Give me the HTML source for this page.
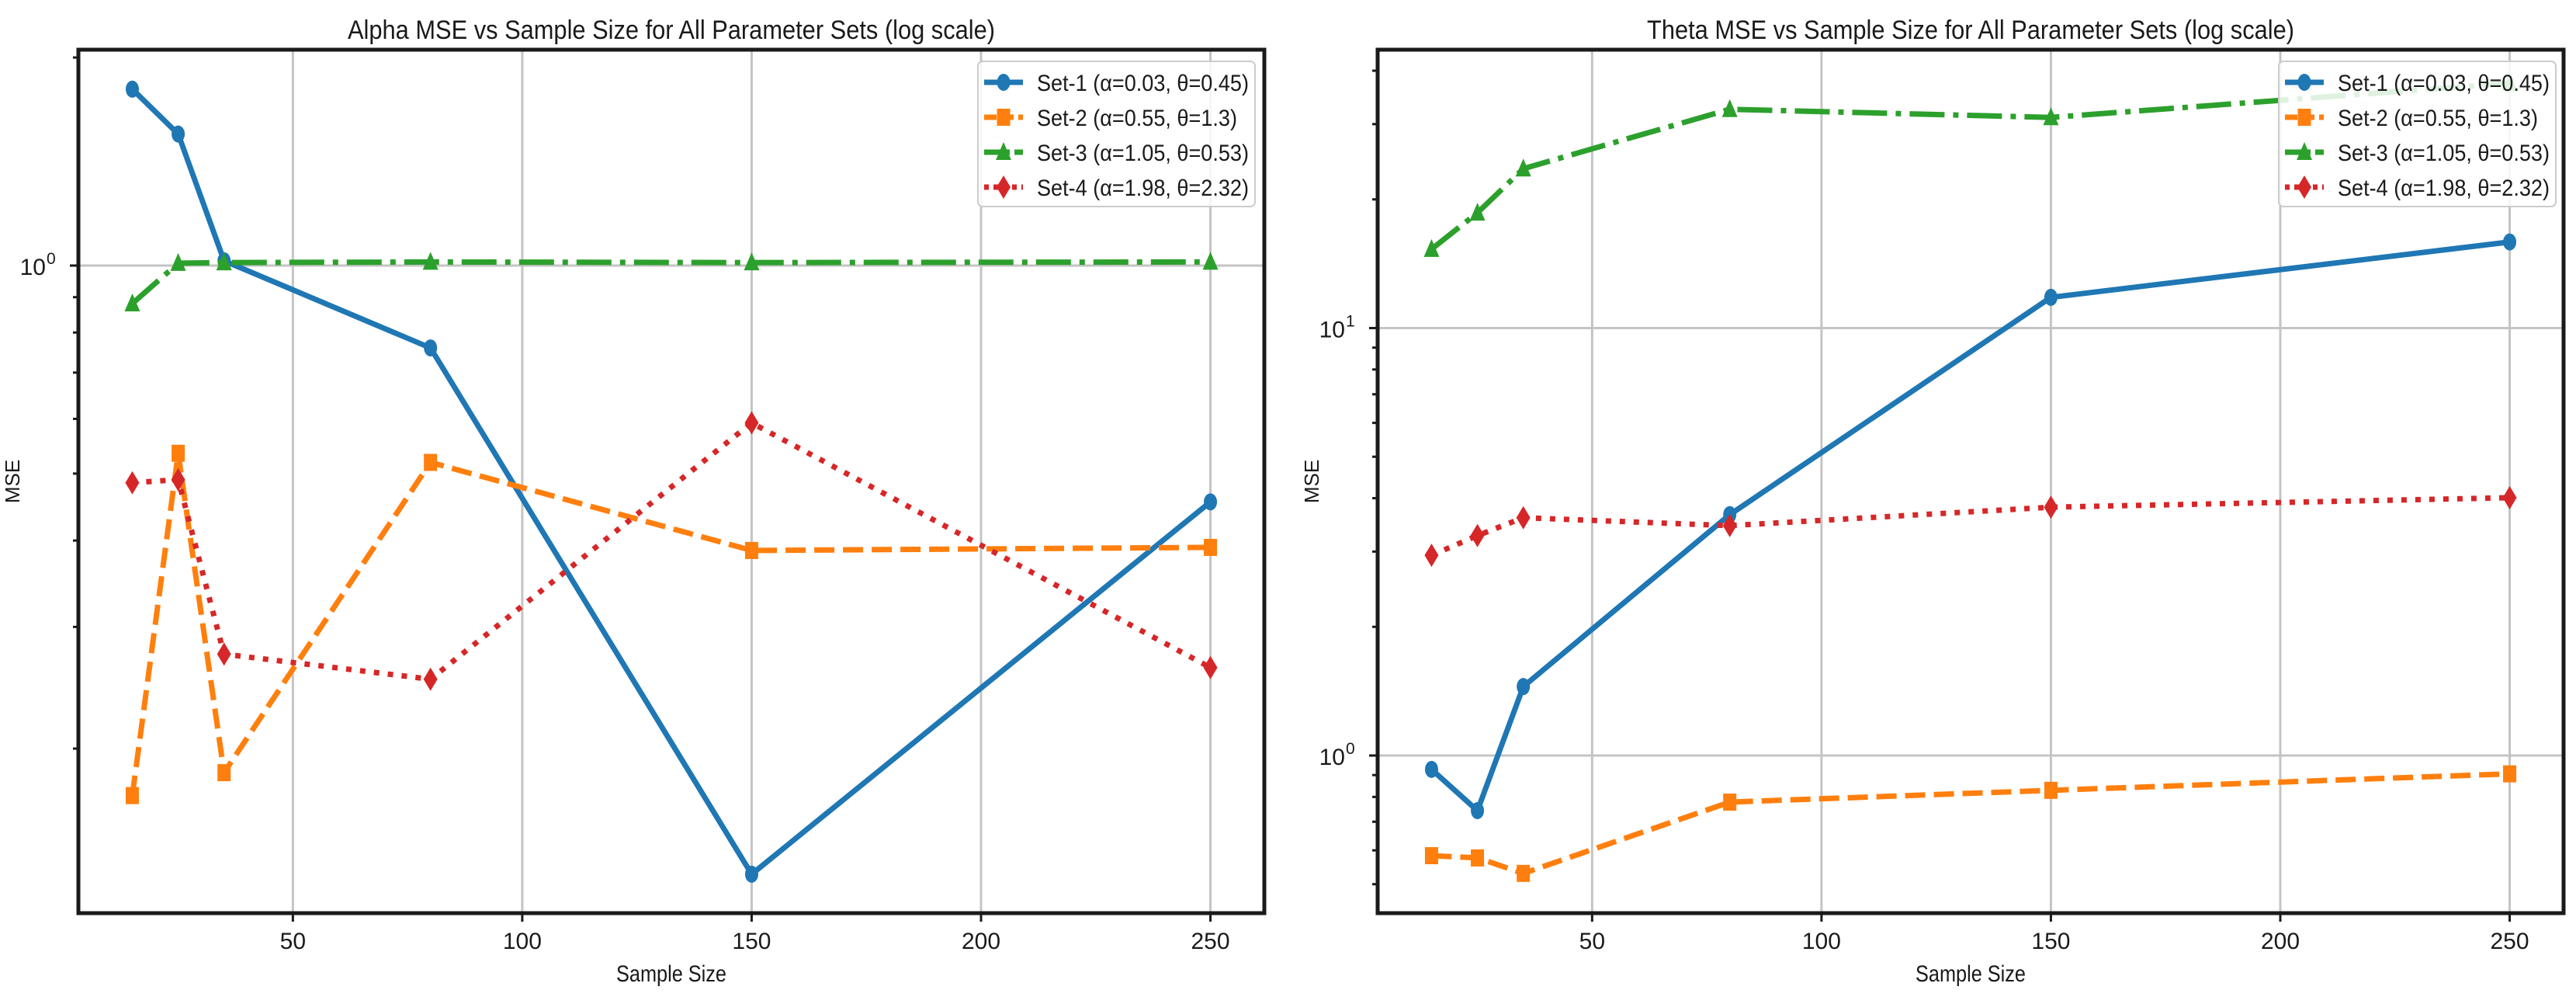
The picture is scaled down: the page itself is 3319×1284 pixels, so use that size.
<!DOCTYPE html>
<html><head><meta charset="utf-8"><style>
html,body{margin:0;padding:0;background:#fff}
svg{display:block}
text{font-family:"Liberation Sans",sans-serif;fill:#1a1a1a}
</style></head><body>
<svg id="fig" width="3319" height="1284" viewBox="0 0 3319 1284" xmlns="http://www.w3.org/2000/svg"></svg>
<script>
const sampleSizes = [15, 25, 35, 80, 150, 250];
const seriesNames = ["Set-1 (\u03b1=0.03, \u03b8=0.45)", "Set-2 (\u03b1=0.55, \u03b8=1.3)", "Set-3 (\u03b1=1.05, \u03b8=0.53)", "Set-4 (\u03b1=1.98, \u03b8=2.32)"];
const alphaSet1 = [1.80, 1.55, 1.016, 0.76, 0.1316, 0.455];
const alphaSet2 = [0.171, 0.535, 0.1846, 0.519, 0.387, 0.391];
const alphaSet3 = [0.881, 1.008, 1.010, 1.012, 1.010, 1.012];
const alphaSet4 = [0.485, 0.49, 0.274, 0.252, 0.592, 0.262];
const thetaSet1 = [0.928, 0.743, 1.45, 3.66, 11.8, 15.9];
const thetaSet2 = [0.583, 0.576, 0.53, 0.778, 0.829, 0.906];
const thetaSet3 = [15.3, 18.6, 23.6, 32.5, 31.1, 37.4];
const thetaSet4 = [2.94, 3.27, 3.6, 3.45, 3.81, 4.01];
const xTicks = [50, 100, 150, 200, 250];

const NS = "http://www.w3.org/2000/svg";
const svg = document.getElementById("fig");
function mk(tag, attrs, parent) {
  const e = document.createElementNS(NS, tag);
  for (const k in attrs) e.setAttribute(k, attrs[k]);
  (parent || svg).appendChild(e);
  return e;
}
const colors = ["#1f77b4", "#ff7f0e", "#2ca02c", "#d62728"];
const dashes = ["none", "26 11", "45 11 7 11", "7 11"];
const markers = ["circle", "square", "triangle", "diamond"];

function drawMarker(g, type, cx, cy, color) {
  let m;
  if (type === "circle") m = mk("ellipse", {cx: cx, cy: cy, rx: 8.5, ry: 11, fill: color}, g);
  else if (type === "square") m = mk("rect", {x: cx - 8.5, y: cy - 11, width: 17, height: 22, fill: color}, g);
  else if (type === "triangle") m = mk("polygon", {points: `${cx},${cy-13} ${cx+10},${cy+10} ${cx-10},${cy+10}`, fill: color}, g);
  else m = mk("polygon", {points: `${cx},${cy-15} ${cx+9},${cy} ${cx},${cy+15} ${cx-9},${cy}`, fill: color}, g);
  return m;
}

function panel(opt) {
  const g = mk("g", {});
  
  
  const L = opt.left, R = opt.left + 1528, T = 64, B = 1176;
  const x0 = 3.25, x1 = 261.75;
  const xs = v => L + (v - x0) / (x1 - x0) * (R - L);
  const ys = v => opt.y0 - opt.dec * Math.log10(v);
  xTicks.forEach(t => {
    const gl = mk("line", {x1: xs(t), x2: xs(t), y1: T, y2: B, stroke: "#c4c4c4", "stroke-width": 3}, g);
    
    
  });
  opt.majors.forEach(t => {
    const gl = mk("line", {x1: L, x2: R, y1: ys(t), y2: ys(t), stroke: "#c4c4c4", "stroke-width": 3}, g);
    
    
  });
  opt.series.forEach((vals, i) => {
    const sg = mk("g", {}, g);
    
    
    const pts = sampleSizes.map((s, j) => xs(s) + "," + ys(vals[j])).join(" ");
    const pl = mk("polyline", {points: pts, fill: "none", stroke: colors[i], "stroke-width": 7, "stroke-dasharray": dashes[i], "stroke-linejoin": "round"}, sg);
    
    
    sampleSizes.forEach((s, j) => {
      const m = drawMarker(sg, markers[i], xs(s), ys(vals[j]), colors[i]);
      
      
    });
  });
  const fr = mk("rect", {x: L, y: T, width: R - L, height: B - T, fill: "none", stroke: "#1a1a1a", "stroke-width": 5}, g);
  
  
  xTicks.forEach(t => {
    mk("line", {x1: xs(t), x2: xs(t), y1: B, y2: B + 11, stroke: "#1a1a1a", "stroke-width": 3}, g);
    const tl = mk("text", {x: xs(t), y: 1222, "font-size": 30, "text-anchor": "middle"}, g);
    tl.textContent = t;
    
    
  });
  opt.minors.forEach(t => {
    mk("line", {x1: L - 7, x2: L, y1: ys(t), y2: ys(t), stroke: "#1a1a1a", "stroke-width": 3}, g);
  });
  opt.majors.forEach((t, k) => {
    mk("line", {x1: L - 11, x2: L, y1: ys(t), y2: ys(t), stroke: "#1a1a1a", "stroke-width": 3}, g);
    const tl = mk("text", {x: L - 42, y: ys(t) + 12, "font-size": 30, "text-anchor": "end"}, g);
    tl.textContent = "10";
    
    
    const sp = mk("text", {x: L - 41, y: ys(t) - 2, "font-size": 21}, g);
    sp.textContent = opt.exps[k];
  });
  const ti = mk("text", {x: (L + R) / 2, y: 50, "font-size": 34, "text-anchor": "middle", textLength: opt.titleW, lengthAdjust: "spacingAndGlyphs"}, g);
  ti.textContent = opt.title;
  
  
  const xl = mk("text", {x: (L + R) / 2, y: 1264, "font-size": 30, "text-anchor": "middle", textLength: 142, lengthAdjust: "spacingAndGlyphs"}, g);
  xl.textContent = "Sample Size";
  
  
  const yl = mk("text", {x: 0, y: 0, "font-size": 26, "text-anchor": "middle", transform: `translate(${opt.left - 76},620) rotate(-90)`, "font-family": "DejaVu Sans"}, g);
  yl.textContent = "MSE";
  
  
  const lg = mk("g", {}, g);
  
  
  const lx = opt.legendX;
  mk("rect", {x: lx, y: 79, width: 357, height: 187, rx: 6, fill: "#fff", "fill-opacity": 0.85, stroke: "#cccccc", "stroke-width": 2}, lg);
  seriesNames.forEach((n, i) => {
    const e = mk("g", {}, lg);
    
    
    const cy = 106 + i * 45;
    mk("line", {x1: lx + 8, x2: lx + 58, y1: cy, y2: cy, stroke: colors[i], "stroke-width": 7, "stroke-dasharray": i === 0 ? "none" : (i === 1 ? "16 6" : (i === 2 ? "22 6 5 6" : "6 6"))}, e);
    drawMarker(e, markers[i], lx + 33, cy, colors[i]);
    const t = mk("text", {x: lx + 76, y: cy + 11, "font-size": 30, textLength: opt.legW[i], lengthAdjust: "spacingAndGlyphs"}, e);
    t.textContent = n;
  });
}

panel({name: "alpha-mse-chart", left: 101, y0: 342, dec: 890, majors: [1], exps: ["0"],
  minors: [0.2, 0.3, 0.4, 0.5, 0.6, 0.7, 0.8, 0.9, 2],
  series: [alphaSet1, alphaSet2, alphaSet3, alphaSet4],
  title: "Alpha MSE vs Sample Size for All Parameter Sets (log scale)", titleW: 834,
  legendX: 1260, legW: [273, 258, 273, 273]});
panel({name: "theta-mse-chart", left: 1775, y0: 973, dec: 550.5, majors: [1, 10], exps: ["0", "1"],
  minors: [0.5, 0.6, 0.7, 0.8, 0.9, 2, 3, 4, 5, 6, 7, 8, 9, 20, 30, 40],
  series: [thetaSet1, thetaSet2, thetaSet3, thetaSet4],
  title: "Theta MSE vs Sample Size for All Parameter Sets (log scale)", titleW: 834,
  legendX: 2936, legW: [273, 258, 273, 273]});
</script>
</body></html>
